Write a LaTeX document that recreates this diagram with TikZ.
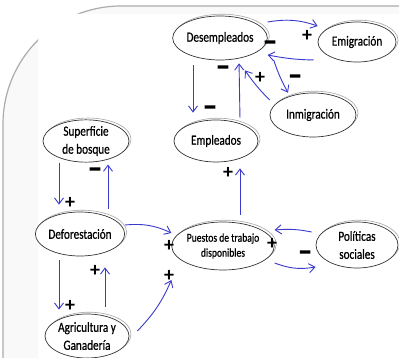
\documentclass[tikz,border=0pt]{standalone}
\usepackage{fontspec}
\setmainfont{Carlito}[FakeStretch=0.8, FakeBold=0.6]
\newfontfamily\signfont{Carlito}
\newfontfamily\minusfont{Carlito}[FakeBold=8]
\usetikzlibrary{shapes.geometric,arrows.meta,shadows}
\definecolor{linkblue}{RGB}{58,58,205}

\begin{document}
\begin{tikzpicture}[x=1pt,y=-1pt,
  var/.style={ellipse, draw=black!80, fill=white, line width=0.7pt, inner sep=0pt, align=center,
    font=\fontsize{14}{18}\selectfont,
    copy shadow={shadow xshift=2pt, shadow yshift=1.8pt, draw=gray!70, fill=white, line width=0.6pt}},
  link/.style={linkblue, line width=0.9pt, -{Straight Barb[length=6pt,width=9pt]}},
  plus/.style={font=\signfont\bfseries\fontsize{20}{20}\selectfont, inner sep=0pt},
  minus/.style={font=\minusfont\fontsize{24}{24}\selectfont, inner sep=0pt}]
\useasboundingbox (0,0) rectangle (399,358);
\clip (0,0) rectangle (399,358);

% frame
\fill[white] (0,0) rectangle (399,358);
\filldraw[gray!65, fill=gray!5, line width=1.2pt, rounded corners=118pt] (3,500) -- (3,6) -- (600,6) -- (600,500) -- cycle;
\fill[white, rounded corners=30pt] (38,14) rectangle (500,500);

% variables
\node[var, minimum width=86, minimum height=44] (des) at (220,38) {Desempleados};
\node[var, minimum width=78, minimum height=40] (emi) at (357,42) {Emigración};
\node[var, minimum width=86, minimum height=44] (inm) at (313,115) {Inmigración};
\node[var, minimum width=84, minimum height=42] (emp) at (216,141) {Empleados};
\node[var, minimum width=86, minimum height=42] (sup) at (86,141) {Superficie\\de bosque};
\node[var, minimum width=85, minimum height=44] (def) at (80,234) {Deforestación};
\node[var, minimum width=84, minimum height=48, font=\fontsize{12}{15}\selectfont] (pue) at (223,246) {Puestos de trabajo\\disponibles};
\node[var, minimum width=82, minimum height=46] (pol) at (357,245) {Políticas\\sociales};
\node[var, minimum width=84, minimum height=44] (agr) at (87,336) {Agricultura y\\Ganadería};

% links
\draw[link] ([yshift=16pt]des.east) to[bend left=14] ([yshift=16pt]emi.west);
\draw[link, shorten <=4pt] ([yshift=-18pt]emi.west) to[bend left=5] ([yshift=-17pt]des.east);
\draw[link] ([xshift=6pt,yshift=-22pt]des.east) to[bend right=5] ([xshift=-25pt]inm.north);
\draw[link] ([yshift=15pt]inm.west) to[bend left=5] ([xshift=25pt,yshift=-10pt]des.south);
\draw[link, shorten <=5pt, shorten >=7pt] ([xshift=-27pt]des.south) -- ([xshift=-23pt]emp.north);
\draw[link, shorten <=2pt, shorten >=3pt] ([xshift=24pt]emp.north) -- ([xshift=19pt]des.south);
\draw[link, shorten <=7pt, shorten >=6pt] ([xshift=17pt]pue.north) -- ([xshift=24pt]emp.south);
\draw[link, shorten >=7pt] ([xshift=-27pt]sup.south) -- ([xshift=-21pt]def.north);
\draw[link, shorten <=3pt, shorten >=2pt] ([xshift=28pt]def.north) -- ([xshift=22pt]sup.south);
\draw[link, shorten <=4pt, shorten >=4pt] ([xshift=-21pt]def.south) -- ([xshift=-28pt]agr.north);
\draw[link, shorten <=7pt, shorten >=11pt] ([xshift=18pt]agr.north) -- ([xshift=25pt]def.south);
\draw[link] ([yshift=9pt]def.east) to[bend left=15] ([yshift=13pt]pue.west);
\draw[link] ([xshift=8pt,yshift=5pt]agr.east) to[bend right=10] ([yshift=-34pt]pue.west);
\draw[link] ([xshift=-4pt,yshift=13pt]pol.west) to[bend right=8] ([yshift=16pt]pue.east);
\draw[link] ([yshift=-17pt]pue.east) to[bend right=15] ([yshift=-22pt]pol.west);

% signs
\node[plus] (s1) at (307,36) {+};
\node[minus] (s2) at (270,45) {–};
\node[minus] (s3) at (295,79) {–};
\node[plus] (s4) at (260,78) {+};
\node[minus] (s5) at (223,70) {–};
\node[minus] (s6) at (210,110) {–};
\node[plus] (s7) at (228,173) {+};
\node[minus] (s8) at (95,172) {–};
\node[plus] (s9) at (70,203) {+};
\node[plus] (s10) at (95,271) {+};
\node[plus] (s11) at (70,306) {+};
\node[plus] (s12) at (169,246) {+};
\node[plus] (s13) at (169,276) {+};
\node[plus] (s14) at (272,244) {+};
\node[minus] (s15) at (305,255) {–};
\end{tikzpicture}
\end{document}
